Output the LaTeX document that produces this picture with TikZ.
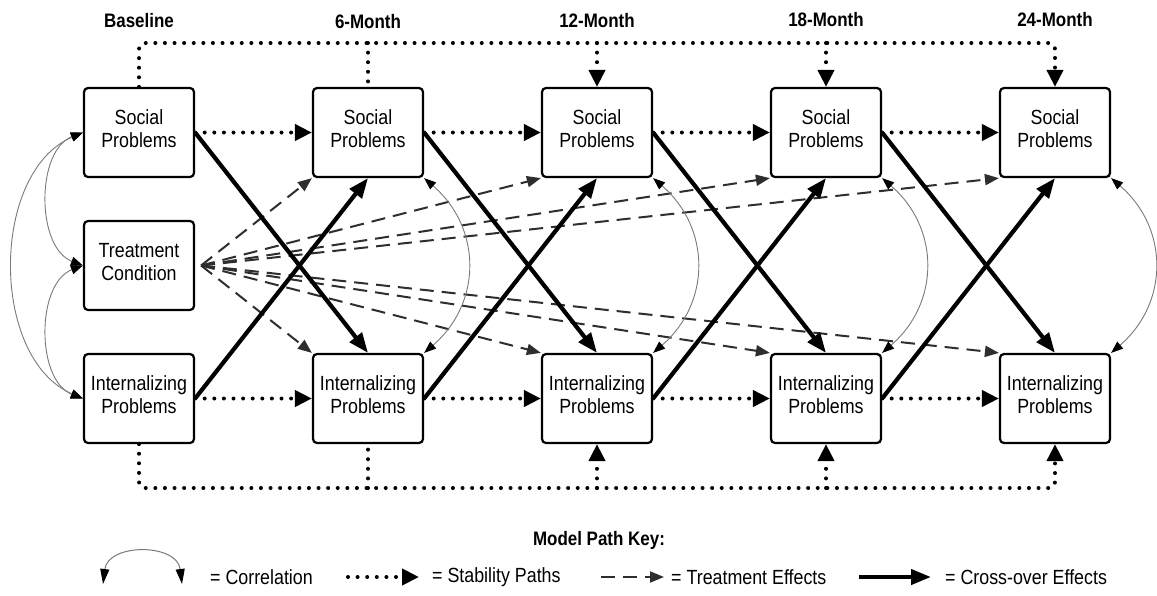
\documentclass[tikz,border=0pt]{standalone}
\usepackage{fontspec}
\setmainfont{Liberation Sans}[FakeStretch=0.87]
\usetikzlibrary{arrows.meta}
\definecolor{dashgray}{HTML}{2E2E2E}
\definecolor{corgray}{HTML}{7A7A7A}
\tikzset{
  box/.style={draw, line width=2.2pt, rounded corners=4pt, minimum width=110pt, minimum height=89pt,
    fill=white, align=center, inner sep=0pt, font=\fontsize{20.5}{23}\selectfont},
  hdr/.style={inner sep=0pt, font=\bfseries\fontsize{19.5}{22}\selectfont},
  stab/.style={line width=4pt, dash pattern=on 0pt off 9.6pt, line cap=round},
  stabtip/.style={-{Triangle[length=17pt,width=16pt]}},
  cross/.style={line width=4.2pt, -{Triangle[length=20pt,width=15pt]}},
  treat/.style={draw=dashgray, line width=2pt, dash pattern=on 14pt off 8pt,
    -{Triangle[length=14pt,width=11pt,color=dashgray]}},
  corr/.style={draw=corgray, line width=0.9pt,
    {Triangle[length=12pt,width=9pt,color=black]}-{Triangle[length=12pt,width=9pt,color=black]}},
  keycorr/.style={draw=corgray, line width=1pt,
    {Triangle[length=15pt,width=9pt,color=black]}-{Triangle[length=15pt,width=9pt,color=black]}},
  keytext/.style={anchor=west, inner sep=0pt, font=\fontsize{20.5}{23}\selectfont},
}
\begin{document}
\begin{tikzpicture}[x=1pt,y=-1pt]
\fill[white] (0,0) rectangle (1157,595);
\useasboundingbox (0,0) rectangle (1157,595);

% headers
\node[hdr] (h0) at (139,21) {Baseline};
\node[hdr] (h6) at (368,22) {6-Month};
\node[hdr] (h12) at (597,21) {12-Month};
\node[hdr] (h18) at (826,20) {18-Month};
\node[hdr] (h24) at (1055,20) {24-Month};

% boxes
\foreach \i/\x in {1/139,2/368,3/597,4/826,5/1055}{
  \node[box] (S\i) at (\x,132.5) {Social\\Problems\strut};
  \node[box] (I\i) at (\x,398.5) {Internalizing\\Problems\strut};
}
\node[box] (T) at (139,265.5) {Treatment\\Condition\strut};

% treatment effects
\coordinate (Tout) at ([xshift=6pt]T.east);
\foreach \i in {2,...,5}{
  \draw[treat] (Tout) -- (S\i.south west);
  \draw[treat] (Tout) -- (I\i.north west);
}

% correlations
\draw[corr] (S1.west) .. controls +(-47,18) and +(-47,-18) .. (T.west);
\draw[corr] (T.west) .. controls +(-47,18) and +(-47,-18) .. (I1.west);
\draw[corr] (S1.west) .. controls +(-93,40) and +(-93,-40) .. (I1.west);
\foreach \i in {2,...,5}{
  \draw[corr] (S\i.south east) .. controls +(58,50) and +(58,-50) .. (I\i.north east);
}

% cross-over effects
\foreach \i/\j in {1/2,2/3,3/4,4/5}{
  \draw[cross] (S\i.east) -- (I\j.north);
  \draw[cross] (I\i.east) -- (S\j.south);
}

% stability paths
\foreach \i/\j in {1/2,2/3,3/4,4/5}{
  \draw[stab,stabtip] (S\i.east) -- (S\j.west);
  \draw[stab,stabtip] (I\i.east) -- (I\j.west);
}
\coordinate (top) at (0,43);
\coordinate (bot) at (0,488);
\draw[stab,stabtip,rounded corners=6pt] (S1.north) -- (S1.north |- top) -- (S5.north |- top) -- (S5.north);
\draw[stab] (S2.north |- top) -- (S2.north);
\draw[stab,stabtip] (S3.north |- top) -- (S3.north);
\draw[stab,stabtip] (S4.north |- top) -- (S4.north);
\draw[stab,stabtip,rounded corners=6pt] (I1.south) -- (I1.south |- bot) -- (I5.south |- bot) -- (I5.south);
\draw[stab] (I2.south |- bot) -- (I2.south);
\draw[stab,stabtip] (I3.south |- bot) -- (I3.south);
\draw[stab,stabtip] (I4.south |- bot) -- (I4.south);

% key
\node[hdr] (keyh) at (599,540) {Model Path Key:};
\coordinate (kc1) at (103,584);
\coordinate (kc2) at (182,584);
\draw[keycorr] (kc1) .. controls (108,543) and (177,543) .. (kc2);
\node[keytext] (kt1) at (210,577) {= Correlation};
\coordinate (ks1) at (348,577);
\coordinate (ks2) at (419,577);
\draw[stab,stabtip] (ks1) -- (ks2);
\node[keytext] (kt2) at (432,577) {= Stability Paths};
\coordinate (kd1) at (601,577);
\coordinate (kd2) at (664,577);
\draw[treat] (kd1) -- (kd2);
\node[keytext] (kt3) at (671,577) {= Treatment Effects};
\coordinate (kx1) at (859,577);
\coordinate (kx2) at (931,577);
\draw[cross] (kx1) -- (kx2);
\node[keytext] (kt4) at (945,577) {= Cross-over Effects};
\end{tikzpicture}
\end{document}
